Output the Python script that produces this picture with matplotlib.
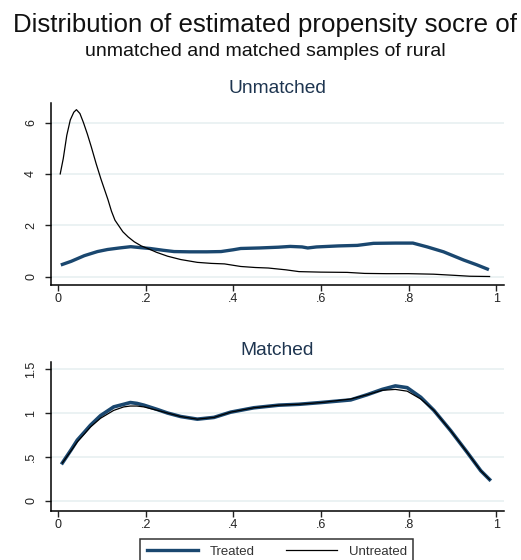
import numpy as np
import matplotlib
matplotlib.use("Agg")
import matplotlib.pyplot as plt
from matplotlib.lines import Line2D

plt.rcParams['font.family'] = ['Liberation Sans', 'DejaVu Sans']

# Unmatched sample densities
um_untr_x = [0.005, 0.012, 0.02, 0.028, 0.036, 0.042, 0.05, 0.058, 0.067, 0.076, 0.087,
             0.098, 0.106, 0.114, 0.122, 0.13, 0.14, 0.148, 0.16, 0.174, 0.19, 0.205,
             0.225, 0.25, 0.28, 0.318, 0.35, 0.38, 0.417, 0.45, 0.48, 0.52, 0.55, 0.6,
             0.66, 0.7, 0.75, 0.8, 0.857, 0.9, 0.94, 0.985]
um_untr_y = [4.0, 4.6, 5.5, 6.1, 6.4, 6.5, 6.35, 6.0, 5.55, 5.05, 4.4,
             3.8, 3.4, 3.0, 2.55, 2.2, 1.95, 1.75, 1.55, 1.36, 1.2, 1.1,
             0.95, 0.8, 0.67, 0.56, 0.52, 0.5, 0.4, 0.36, 0.34, 0.27, 0.2, 0.18,
             0.17, 0.13, 0.12, 0.12, 0.1, 0.06, 0.02, 0.01]
um_tr_x = [0.01, 0.03, 0.06, 0.09, 0.113, 0.14, 0.166, 0.19, 0.21, 0.24, 0.265, 0.3,
           0.34, 0.372, 0.4, 0.417, 0.46, 0.503, 0.53, 0.557, 0.57, 0.59, 0.64, 0.683,
           0.72, 0.77, 0.81, 0.843, 0.88, 0.926, 0.955, 0.98]
um_tr_y = [0.48, 0.6, 0.82, 0.98, 1.06, 1.12, 1.17, 1.13, 1.1, 1.03, 0.98, 0.97,
           0.97, 0.98, 1.05, 1.1, 1.12, 1.15, 1.18, 1.16, 1.12, 1.16, 1.2, 1.22,
           1.3, 1.31, 1.31, 1.16, 0.97, 0.65, 0.47, 0.3]

# Matched sample densities
m_x = [0.01, 0.03, 0.044, 0.06, 0.074, 0.097, 0.127, 0.15, 0.165, 0.18, 0.196, 0.227,
       0.25, 0.28, 0.318, 0.356, 0.394, 0.447, 0.504, 0.55, 0.6, 0.668, 0.706, 0.74,
       0.77, 0.797, 0.828, 0.858, 0.896, 0.934, 0.965, 0.985]
m_tr_y = [0.43, 0.58, 0.69, 0.78, 0.86, 0.97, 1.07, 1.1, 1.12, 1.11, 1.09, 1.04,
          1.0, 0.96, 0.93, 0.95, 1.01, 1.06, 1.09, 1.1, 1.12, 1.15, 1.21, 1.27,
          1.31, 1.29, 1.18, 1.03, 0.8, 0.55, 0.34, 0.24]
m_untr_y = [0.43, 0.57, 0.67, 0.76, 0.84, 0.94, 1.03, 1.07, 1.08, 1.08, 1.07, 1.03,
            1.0, 0.96, 0.93, 0.95, 1.01, 1.06, 1.09, 1.1, 1.12, 1.16, 1.21, 1.26,
            1.27, 1.25, 1.16, 1.03, 0.8, 0.55, 0.34, 0.24]

xticks = [0, 0.2, 0.4, 0.6, 0.8, 1]
xlabels = ["0", ".2", ".4", ".6", ".8", "1"]

navy = "#1a476f"
grid = "#e8f0f1"
tcol = "#1e3550"

fig = plt.figure(figsize=(5.21, 5.60), dpi=100)
fig.text(0.509, 1 - 32 / 560, "Distribution of estimated propensity socre of", ha="center",
         va="baseline", fontsize=18.6, color="#111111")
fig.text(0.510, 1 - 56 / 560, "unmatched and matched samples of rural", ha="center",
         va="baseline", fontsize=14, color="#111111")


def style(ax, yt, ylab, ylim):
    ax.set_xlim(-0.016, 1.018)
    ax.set_ylim(*ylim)
    ax.set_xticks(xticks)
    ax.set_xticklabels(xlabels)
    ax.set_yticks(yt)
    ax.set_yticklabels(ylab, rotation=90, va="center")
    for y in yt:
        ax.axhline(y, color=grid, lw=1.2, zorder=0)
    ax.spines["top"].set_visible(False)
    ax.spines["right"].set_visible(False)
    ax.spines["left"].set_linewidth(1.1)
    ax.spines["bottom"].set_linewidth(1.1)
    ax.tick_params(direction="out", length=4, width=1, labelsize=9, colors="#222222")
    ax.tick_params(axis="x", pad=2)
    ax.tick_params(axis="y", pad=6)


ax1 = fig.add_axes([0.0979, 0.4911, 0.8695, 0.325])
ax1.plot(um_tr_x, um_tr_y, color=navy, lw=2.4)
ax1.plot(um_untr_x, um_untr_y, color="black", lw=0.9)
style(ax1, [0, 2, 4, 6], ["0", "2", "4", "6"], (-0.32, 6.76))
ax1.set_title("Unmatched", fontsize=13.8, color=tcol, pad=7)

ax2 = fig.add_axes([0.0979, 0.0875, 0.8695, 0.266])
ax2.plot(m_x, m_tr_y, color=navy, lw=2.6)
ax2.plot(m_x, m_untr_y, color="black", lw=0.9)
style(ax2, [0, 0.5, 1, 1.5], ["0", ".5", "1", "1.5"], (-0.12, 1.583))
ax2.set_title("Matched", fontsize=13.8, color=tcol, pad=5)

handles = [Line2D([], [], color=navy, lw=2.4), Line2D([], [], color="black", lw=0.9)]
leg = fig.legend(handles, ["Treated", "Untreated"], loc="upper center",
                 bbox_to_anchor=(0.531, 1 - 539 / 560), ncol=2, fontsize=9.5, frameon=True,
                 fancybox=False, handlelength=3.9, columnspacing=2.4, handletextpad=0.85,
                 borderpad=0.5, borderaxespad=0, labelcolor="#333333")
leg.get_frame().set_edgecolor("black")
leg.get_frame().set_linewidth(1.1)

fig.savefig("out.png", dpi=100)
